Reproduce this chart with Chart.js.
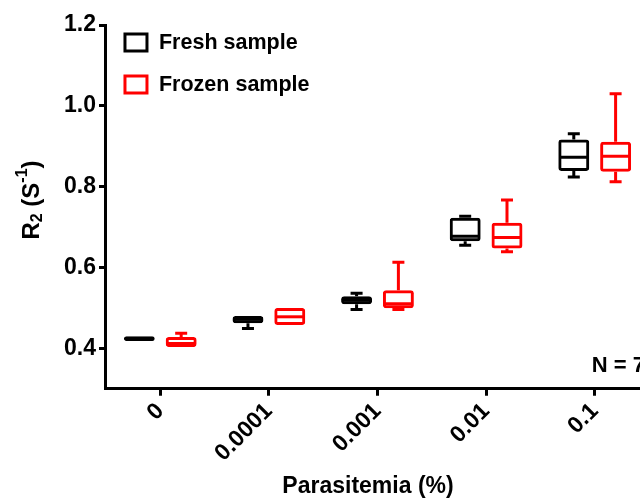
<!DOCTYPE html>
<html>
<head>
<meta charset="utf-8">
<script src="https://cdn.jsdelivr.net/npm/chart.js@4"></script>
<style>
  html, body { margin: 0; padding: 0; background: #fff; overflow: hidden; }
  #wrap { width: 660px; height: 500px; position: relative; }
</style>
</head>
<body>
<div id="wrap"><canvas id="boxChart"></canvas></div>
<script>
// --- Data ---
const categories = ['0', '0.0001', '0.001', '0.01', '0.1'];
const yTicks = [0.4, 0.6, 0.8, 1.0, 1.2];

const freshMin    = [0.416, 0.449, 0.496, 0.655, 0.824];
const freshQ1     = [0.418, 0.462, 0.509, 0.665, 0.839];
const freshMedian = [0.424, 0.472, 0.519, 0.677, 0.873];
const freshQ3     = [0.430, 0.480, 0.529, 0.723, 0.917];
const freshMax    = [0.432, 0.480, 0.536, 0.727, 0.931];

const frozenMin    = [0.402, 0.456, 0.496, 0.639, 0.812];
const frozenQ1     = [0.403, 0.458, 0.499, 0.647, 0.837];
const frozenMedian = [0.412, 0.478, 0.510, 0.674, 0.875];
const frozenQ3     = [0.428, 0.500, 0.544, 0.711, 0.911];
const frozenMax    = [0.437, 0.502, 0.613, 0.767, 1.030];

const FONT = "'Liberation Sans', Arial, sans-serif";

// whiskers + median for each box, drawn from the scale
const boxPlotExtras = {
    id: 'boxPlotExtras',
    afterDatasetsDraw(chart) {
        const ctx = chart.ctx;
        const y = chart.scales.y;
        chart.data.datasets.forEach((ds, di) => {
            const meta = chart.getDatasetMeta(di);
            meta.data.forEach((bar, i) => {
                const s = ds.stats;
                const x = bar.x;
                const half = bar.width / 2;
                const yMin = y.getPixelForValue(s.min[i]);
                const yMax = y.getPixelForValue(s.max[i]);
                const yQ1 = y.getPixelForValue(s.q1[i]);
                const yQ3 = y.getPixelForValue(s.q3[i]);
                const yMed = y.getPixelForValue(s.median[i]);
                ctx.save();
                ctx.strokeStyle = ds.borderColor;
                ctx.lineWidth = 3;
                ctx.lineCap = 'butt';
                ctx.beginPath();
                // median
                ctx.moveTo(x - half + 1, yMed);
                ctx.lineTo(x + half - 1, yMed);
                // upper whisker
                if (yQ3 - yMax > 1) {
                    ctx.moveTo(x, yQ3);
                    ctx.lineTo(x, yMax);
                    ctx.moveTo(x - 6, yMax);
                    ctx.lineTo(x + 6, yMax);
                }
                // lower whisker
                if (yMin - yQ1 > 1) {
                    ctx.moveTo(x, yQ1);
                    ctx.lineTo(x, yMin);
                    ctx.moveTo(x - 6, yMin);
                    ctx.lineTo(x + 6, yMin);
                }
                ctx.stroke();
                ctx.restore();
            });
        });
    }
};

// legend, axis titles and N label
const annotations = {
    id: 'annotations',
    afterDraw(chart) {
        const ctx = chart.ctx;
        const area = chart.chartArea;
        ctx.save();
        ctx.fillStyle = '#000';
        ctx.textBaseline = 'middle';

        // legend
        ctx.font = 'bold 21.5px ' + FONT;
        chart.data.datasets.forEach((ds, i) => {
            const by = area.top + 9 + i * 42;
            ctx.strokeStyle = ds.borderColor;
            ctx.lineWidth = 3;
            ctx.strokeRect(area.left + 19, by, 22, 17);
            ctx.fillStyle = '#000';
            ctx.textAlign = 'left';
            ctx.fillText(ds.label, area.left + 53, by + 9);
        });

        // N = 7
        ctx.textAlign = 'right';
        ctx.font = 'bold 22px ' + FONT;
        ctx.fillText('N = 7', 645, 366);

        // x title
        ctx.textAlign = 'center';
        ctx.font = 'bold 23px ' + FONT;
        ctx.fillText('Parasitemia (%)', 368, 487);

        // y title with sub/superscript
        ctx.translate(32, 200);
        ctx.rotate(-Math.PI / 2);
        const big = 'bold 24px ' + FONT;
        const small = 'bold 16px ' + FONT;
        const parts = [
            { t: 'R', f: big, dy: 0 },
            { t: '2', f: small, dy: 6 },
            { t: ' (S', f: big, dy: 0 },
            { t: '-1', f: small, dy: -9 },
            { t: ')', f: big, dy: 0 }
        ];
        let total = 0;
        parts.forEach(p => { ctx.font = p.f; total += ctx.measureText(p.t).width; });
        let cx = -total / 2;
        ctx.textAlign = 'left';
        parts.forEach(p => {
            ctx.font = p.f;
            ctx.fillText(p.t, cx, p.dy);
            cx += ctx.measureText(p.t).width;
        });
        ctx.restore();
    }
};

function boxData(q1, q3) {
    return q1.map((v, i) => [v, q3[i]]);
}

new Chart(document.getElementById('boxChart'), {
    type: 'bar',
    data: {
        labels: categories,
        datasets: [
            {
                label: 'Fresh sample',
                data: boxData(freshQ1, freshQ3),
                stats: { min: freshMin, q1: freshQ1, median: freshMedian, q3: freshQ3, max: freshMax },
                borderColor: '#000000',
                backgroundColor: 'rgba(255,255,255,0)',
                borderWidth: 3,
                borderSkipped: false,
                borderRadius: 3
            },
            {
                label: 'Frozen sample',
                data: boxData(frozenQ1, frozenQ3),
                stats: { min: frozenMin, q1: frozenQ1, median: frozenMedian, q3: frozenQ3, max: frozenMax },
                borderColor: '#ff0000',
                backgroundColor: 'rgba(255,255,255,0)',
                borderWidth: 3,
                borderSkipped: false,
                borderRadius: 3
            }
        ]
    },
    options: {
        responsive: true,
        maintainAspectRatio: false,
        animation: false,
        categoryPercentage: 0.77,
        barPercentage: 0.74,
        layout: { padding: { left: 61, right: 11, top: 25, bottom: 31 } },
        plugins: {
            legend: { display: false },
            tooltip: { enabled: false }
        },
        scales: {
            x: {
                grid: {
                    display: true,
                    offset: false,
                    drawOnChartArea: false,
                    drawTicks: true,
                    tickLength: 7,
                    color: '#000',
                    lineWidth: 3
                },
                border: { display: true, color: '#000', width: 3 },
                ticks: {
                    color: '#000',
                    font: { family: FONT, size: 23, weight: 'bold' },
                    minRotation: 45,
                    maxRotation: 45,
                    padding: 2
                }
            },
            y: {
                min: 0.3,
                max: 1.2,
                afterBuildTicks(scale) {
                    scale.ticks = yTicks.map(v => ({ value: v }));
                },
                grid: {
                    display: true,
                    drawOnChartArea: false,
                    drawTicks: true,
                    tickLength: 7,
                    color: '#000',
                    lineWidth: 3
                },
                border: { display: true, color: '#000', width: 3 },
                ticks: {
                    color: '#000',
                    font: { family: FONT, size: 23, weight: 'bold' },
                    padding: 3,
                    callback: v => Number(v).toFixed(1)
                }
            }
        }
    },
    plugins: [boxPlotExtras, annotations]
});
</script>
</body>
</html>
